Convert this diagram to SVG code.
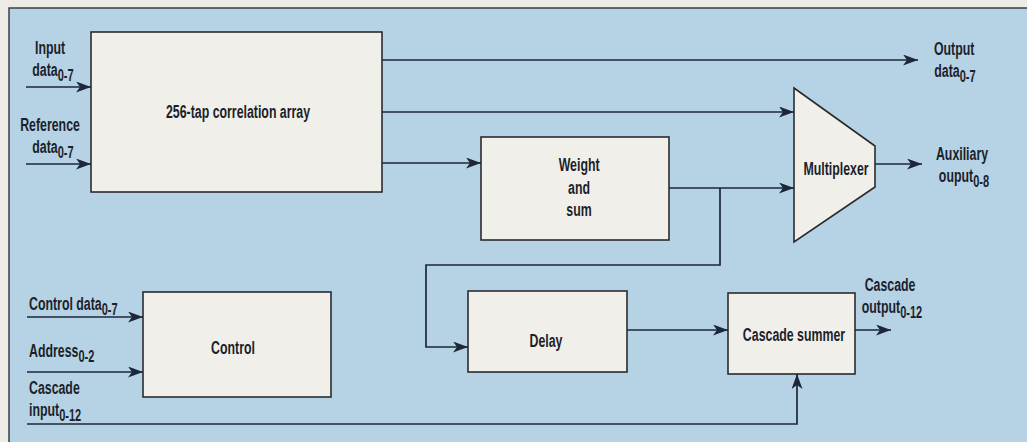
<svg xmlns="http://www.w3.org/2000/svg" width="1027" height="442" viewBox="0 0 1027 442">
<style>
.box{fill:#f1efe9;stroke:#2b2b2e;stroke-width:1.6}
.ln{fill:none;stroke:#1d2738;stroke-width:1.7}
.t{font-family:"Liberation Sans",Arial,sans-serif;font-weight:bold;font-size:19px;fill:#1c1f2a;transform-box:fill-box;transform:scaleX(0.65)}
.m{text-anchor:middle;transform-origin:center}
.l{text-anchor:start;transform-origin:left center}
.s{font-size:17px}
</style>
<defs>
<marker id="ah" markerUnits="userSpaceOnUse" markerWidth="16" markerHeight="12" refX="15" refY="5.5" orient="auto">
<path d="M0,0 L15,5.5 L0,11 L4,5.5 z" fill="#1d2738"/>
</marker>
</defs>
<rect x="0" y="0" width="1027" height="442" fill="#ecebe4"/>
<rect x="9" y="8" width="1030" height="440" fill="#b5d3e5" stroke="#3a3f48" stroke-width="1.5"/>

<g id="corr">
<rect class="box" x="91" y="32" width="291" height="160"/>
<text class="t m" x="238" y="118">256-tap correlation array</text>
</g>
<g id="weight">
<rect class="box" x="481" y="137" width="188" height="103"/>
<text class="t m" x="579" y="171">Weight</text>
<text class="t m" x="579" y="194">and</text>
<text class="t m" x="579" y="216">sum</text>
</g>
<g id="mux">
<path class="box" d="M794,88 L875,146 L875,187 L794,242 Z"/>
<text class="t m" x="836" y="175">Multiplexer</text>
</g>
<g id="control">
<rect class="box" x="143" y="292" width="188" height="105"/>
<text class="t m" x="233" y="354">Control</text>
</g>
<g id="delay">
<rect class="box" x="468" y="291" width="159" height="81"/>
<text class="t m" x="546" y="347">Delay</text>
</g>
<g id="summer">
<rect class="box" x="728" y="293" width="127" height="81"/>
<text class="t m" x="794" y="341">Cascade summer</text>
</g>

<g id="connectors">
<path class="ln" d="M26,87 H91" marker-end="url(#ah)"/>
<path class="ln" d="M26,164 H91" marker-end="url(#ah)"/>
<path class="ln" d="M382,60 H918" marker-end="url(#ah)"/>
<path class="ln" d="M382,112 H794" marker-end="url(#ah)"/>
<path class="ln" d="M382,163 H481" marker-end="url(#ah)"/>
<path class="ln" d="M669,188 H794" marker-end="url(#ah)"/>
<path class="ln" d="M720,188 V265 H426 V347 H468" marker-end="url(#ah)"/>
<path class="ln" d="M875,164 H922" marker-end="url(#ah)"/>
<path class="ln" d="M627,330 H728" marker-end="url(#ah)"/>
<path class="ln" d="M855,330 H891" marker-end="url(#ah)"/>
<path class="ln" d="M27,317 H143" marker-end="url(#ah)"/>
<path class="ln" d="M27,372 H143" marker-end="url(#ah)"/>
<path class="ln" d="M27,424 H797 V374" marker-end="url(#ah)"/>
</g>

<g id="labels">
<text class="t m" x="50" y="54">Input</text>
<text class="t m" x="53" y="76">data<tspan class="s" dy="5">0-7</tspan></text>
<text class="t m" x="50" y="131">Reference</text>
<text class="t m" x="53" y="153">data<tspan class="s" dy="5">0-7</tspan></text>
<text class="t m" x="954" y="55">Output</text>
<text class="t m" x="955" y="77">data<tspan class="s" dy="5">0-7</tspan></text>
<text class="t m" x="962" y="160">Auxiliary</text>
<text class="t m" x="964" y="182">ouput<tspan class="s" dy="5">0-8</tspan></text>
<text class="t m" x="890" y="291">Cascade</text>
<text class="t m" x="892" y="313">output<tspan class="s" dy="5">0-12</tspan></text>
<text class="t l" x="29" y="310">Control data<tspan class="s" dy="5">0-7</tspan></text>
<text class="t l" x="29" y="357">Address<tspan class="s" dy="5">0-2</tspan></text>
<text class="t l" x="29" y="394">Cascade</text>
<text class="t l" x="29" y="416">input<tspan class="s" dy="5">0-12</tspan></text>
</g>
</svg>
